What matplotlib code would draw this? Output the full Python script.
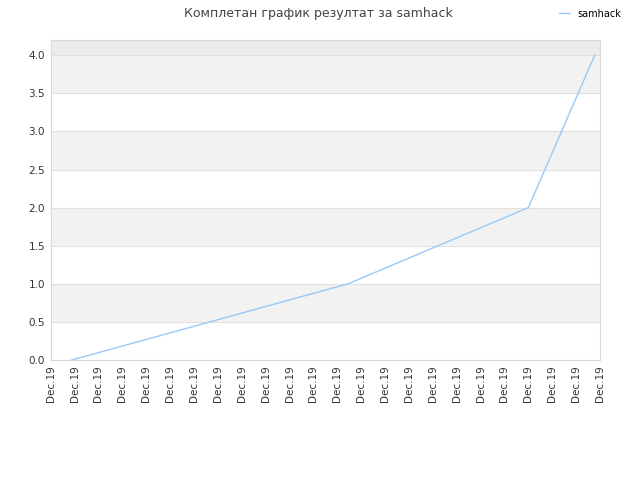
import matplotlib
matplotlib.use("Agg")
import matplotlib.pyplot as plt

# data (x in tick units, 24 ticks all labelled "Dec.19")
tick_labels = ["Dec.19"] * 24
x_vals = [0.88, 12.45, 20.0, 22.78]
y_vals = [0.0, 1.0, 2.0, 4.0]
series_name = "samhack"
title = "Комплетан график резултат за samhack"

fig = plt.figure(figsize=(6.4, 4.8), dpi=100)
ax = fig.add_axes([0.0792, 0.25, 0.8583, 0.6667])

# alternating horizontal bands
ymax = 4.2
step = 0.5
band = 0.0
i = 0
while band < ymax:
    top = min(band + step, ymax)
    if band >= 4.0:
        color = "#ececec"
    elif i % 2 == 1:
        color = "#f2f2f2"
    else:
        color = "#ffffff"
    ax.axhspan(band, top, color=color, zorder=0, lw=0)
    band += step
    i += 1

for yv in [0.5 * k for k in range(1, 9)]:
    ax.axhline(yv, color="#e0e0e0", lw=0.8, zorder=1)

ax.plot(x_vals, y_vals, color="#99c9f7", lw=1.0, label=series_name, zorder=3)

ax.set_xlim(0, 23)
ax.set_ylim(0, ymax)
ax.set_xticks(range(len(tick_labels)))
ax.set_xticklabels(tick_labels, rotation=90, fontsize=7.5, color="#333333")
ax.set_yticks([0.5 * k for k in range(9)])
ax.set_yticklabels([f"{0.5 * k:.1f}" for k in range(9)], fontsize=7.5, color="#333333")
ax.tick_params(length=0, pad=4)
for s in ax.spines.values():
    s.set_color("#d9d9d9")
    s.set_linewidth(0.8)

fig.text(0.497, 0.972, title, ha="center", va="center", fontsize=9, color="#444444")
fig.legend(loc="upper right", bbox_to_anchor=(0.985, 1.0), frameon=False,
           fontsize=7, handlelength=1.1, handletextpad=0.8)

fig.savefig("out.png", dpi=100)
